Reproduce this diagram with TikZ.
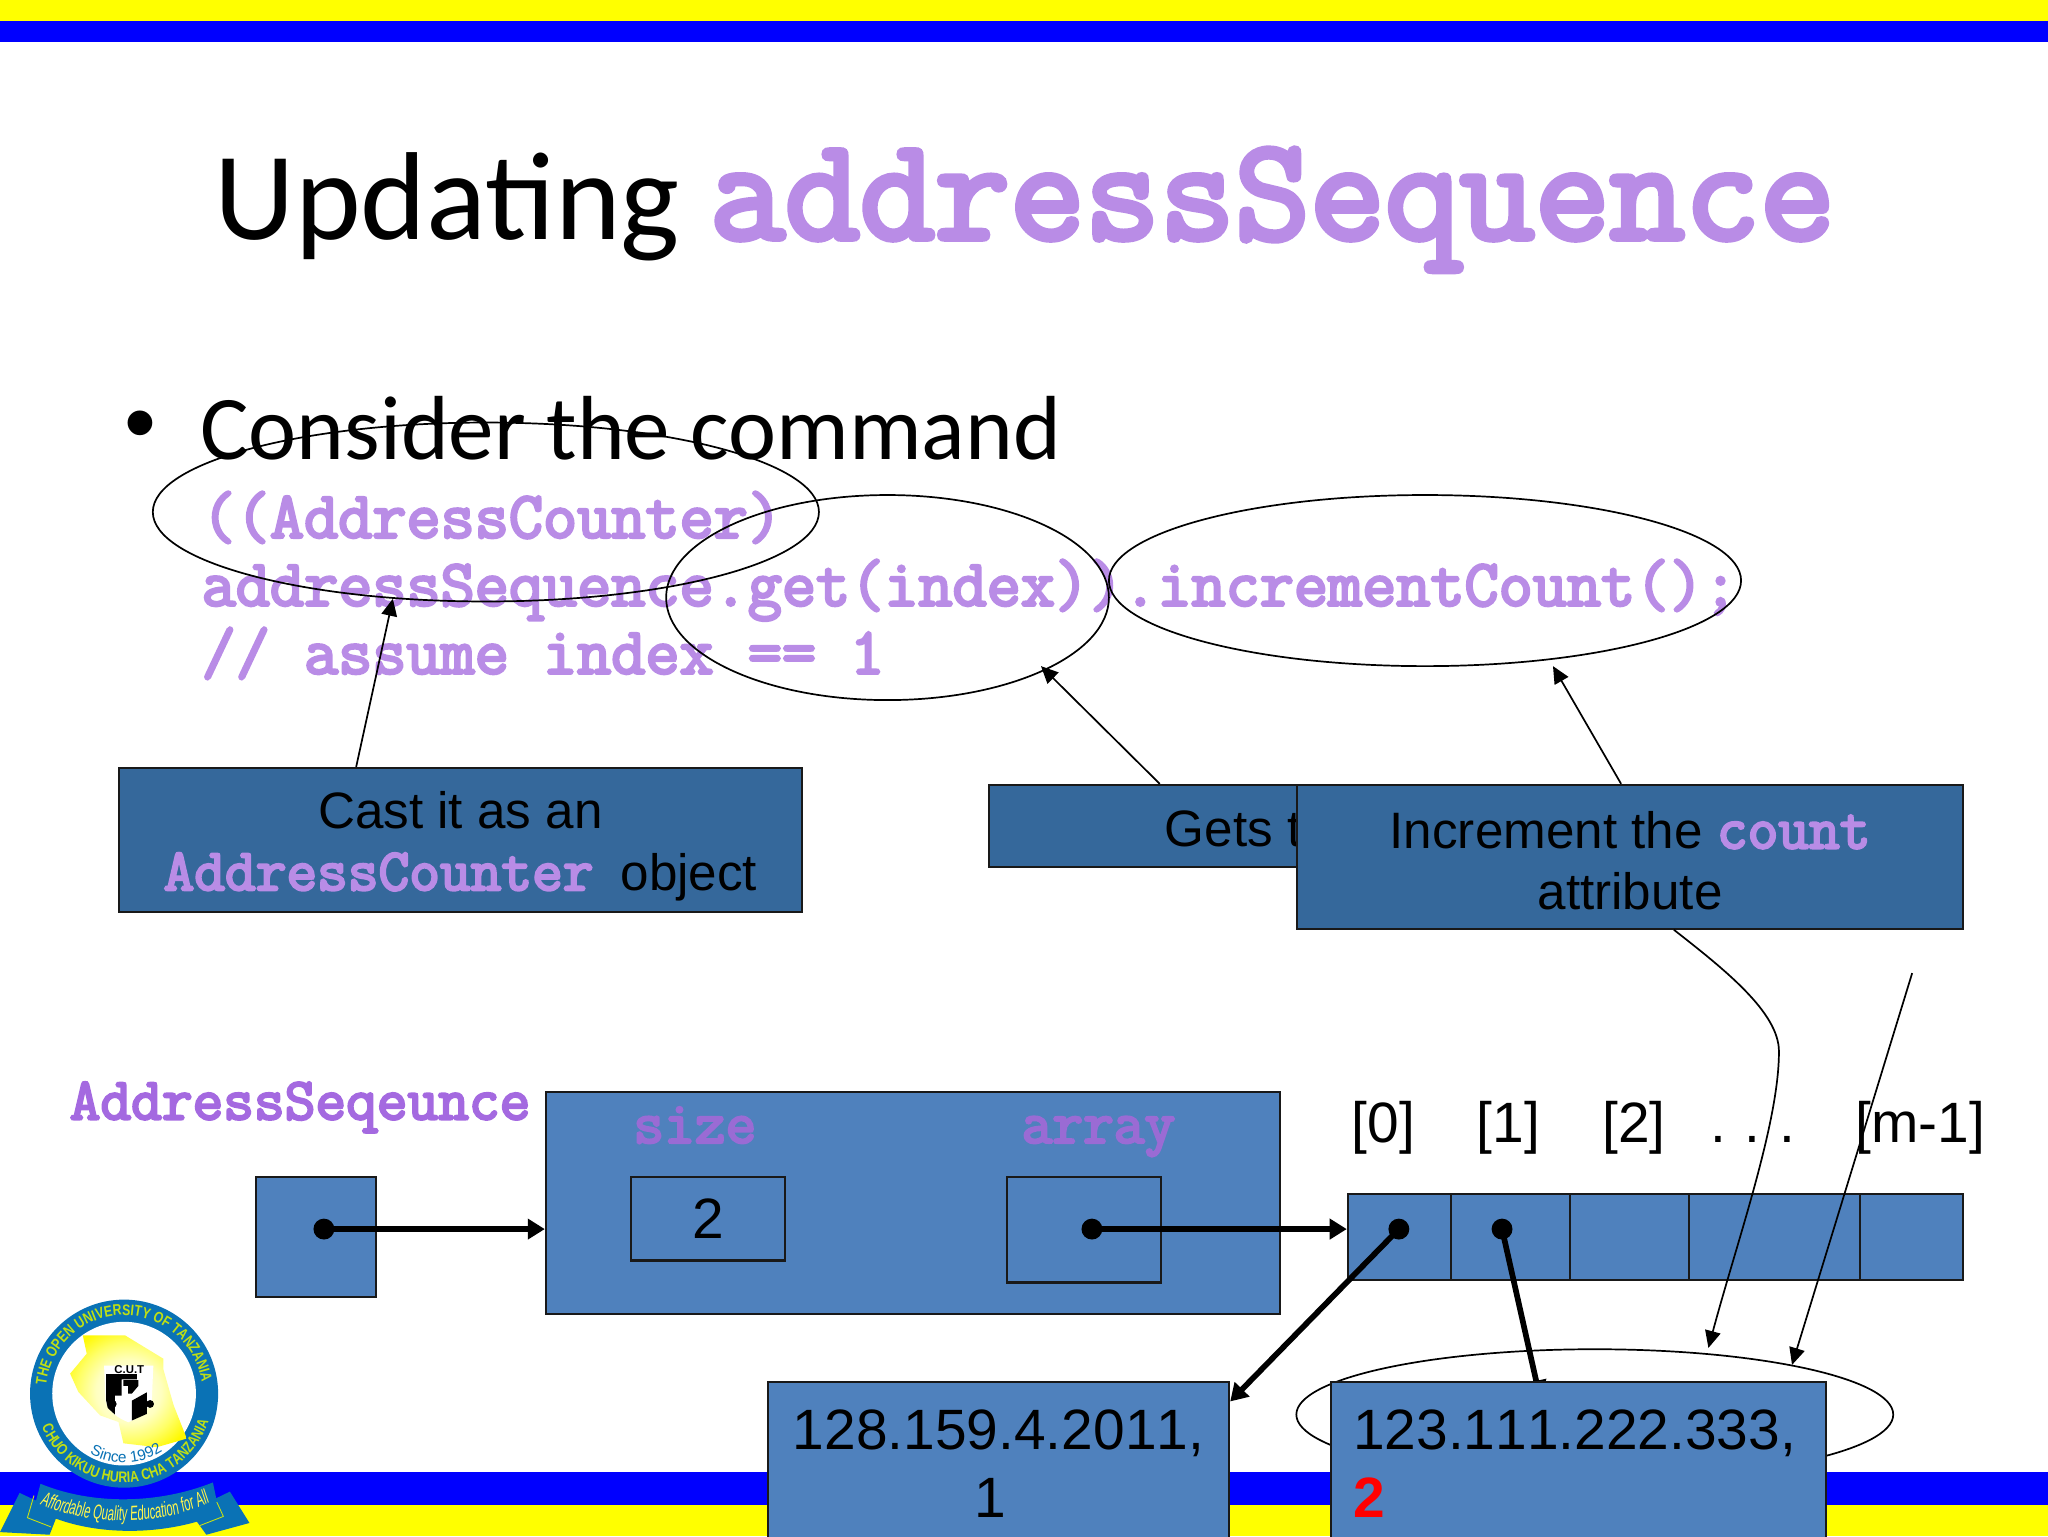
\documentclass[tikz,border=0pt]{standalone}
\usepackage{fontspec}
\setmainfont{Liberation Sans}
\newfontfamily\titlefont{Carlito}
\newfontfamily\codefont[FakeBold=4]{Latin Modern Mono}
\newfontfamily\logofont[FakeStretch=0.55,FakeSlant=0.08]{Liberation Sans}
\newfontfamily\ringfont[FakeStretch=0.8]{Liberation Sans}
\usetikzlibrary{arrows.meta,shapes.geometric,decorations.text}
\newcommand{\pxu}{0.4592pt}
\newcommand{\fsz}[1]{\fontsize{#1}{#1}\selectfont}
\definecolor{barblue}{HTML}{0000FF}
\definecolor{baryellow}{HTML}{FFFF00}
\definecolor{codelilac}{HTML}{B98CE6}
\definecolor{labellilac}{HTML}{A469E0}
\definecolor{fieldlilac}{HTML}{9A6BD4}
\definecolor{notefill}{HTML}{35689B}
\definecolor{cellfill}{HTML}{4F81BD}
\definecolor{logoblue}{HTML}{0A72B5}
\pgfdeclareradialshading{mapshade}{\pgfpoint{0bp}{0bp}}{color(0bp)=(white); color(14bp)=(yellow!25!white); color(22bp)=(yellow!60!white); color(30bp)=(yellow!95!orange); color(50bp)=(yellow!95!orange)}
\tikzset{
    notebox/.style={draw=black!90, line width=0.8pt, fill=notefill, align=center, inner sep=0pt, font=\fontsize{18}{21.6}\selectfont},
    cellbox/.style={draw=black!90, line width=0.8pt, fill=cellfill, inner sep=0pt},
    loop/.style={draw=black, ellipse, line width=0.6pt, inner sep=0pt},
    dotmark/.style={circle, fill=black, inner sep=0pt, minimum size=16*\pxu},
    index/.style={inner sep=0pt, anchor=base, font=\fontsize{20}{24}\selectfont},
    thinarrow/.style={line width=0.6pt, -{Triangle[length=6pt,width=5.5pt]}},
    thickarrow/.style={line width=2pt, -{Triangle[length=6pt,width=7pt]}}
}
\begin{document}
\begin{tikzpicture}[x=\pxu, y=-\pxu]
    \useasboundingbox (0,0) rectangle (1568,1176);
    % bars
    \fill[baryellow] (0,0) rectangle (1568,16);
    \fill[barblue] (0,16) rectangle (1568,32);
    \fill[barblue] (0,1127) rectangle (1568,1152);
    \fill[baryellow] (0,1152) rectangle (1568,1176);

    % title and bullet
    \node[anchor=base west, inner sep=0pt, font=\titlefont\fsz{44}] (titleWord) at (164,183) {Updating};
    \node[anchor=base west, inner sep=0pt, text=codelilac, font=\codefont\fsz{51.2}] (titleCode) at (543,183) {addressSequence};
    \node[anchor=base west, inner sep=0pt, font=\fsz{32}] (bulletMark) at (95,347) {•};
    \node[anchor=base west, inner sep=0pt, font=\titlefont\fsz{32}] (consider) at (153,352) {Consider the command};
    \node[anchor=north west, inner sep=0pt, align=left, text=codelilac, font=\codefont\fontsize{23.3}{23.9}\selectfont] (codeLines) at (154,376) {((AddressCounter)\\addressSequence.get(index)).incrementCount();\\// assume index == 1};

    % the three notes
    \node[loop, minimum width=510*\pxu, minimum height=137*\pxu] (castLoop) at (372,392) {};
    \node[loop, minimum width=339*\pxu, minimum height=157*\pxu] (getLoop) at (679.5,457.5) {};
    \node[loop, minimum width=484*\pxu, minimum height=131*\pxu] (incLoop) at (1091,444.5) {};
    \node[notebox, minimum width=523*\pxu, minimum height=110*\pxu] (castNote) at (352.5,643) {\rule{0pt}{17.5pt}Cast it as an\\{\codefont\color{codelilac}\fsz{20.96}AddressCounter} \hspace{4.5pt}object};
    \node[notebox, minimum width=374*\pxu, minimum height=63*\pxu] (getNote) at (944,632.5) {\rule{0pt}{14.2pt}Gets t};
    \node[notebox, minimum width=510*\pxu, minimum height=110*\pxu] (incNote) at (1248,656) {\rule{0pt}{15.8pt}Increment the {\codefont\color{codelilac}\fsz{20.96}count}\\attribute};
    \coordinate (getTip) at (797,510);
    \coordinate (incTip) at (1189,510);
    \draw[thinarrow] (castNote.145) -- (castLoop.-137.5);
    \draw[thinarrow] (getNote.150) -- (getTip);
    \draw[thinarrow] (incNote.97.3) -- (incTip);

    % the sequence object
    \node[anchor=base west, inner sep=0pt, text=labellilac, font=\codefont\fsz{20.96}] (seqLabel) at (53,857) {AddressSeqeunce};
    \node[cellbox, minimum width=92*\pxu, minimum height=92*\pxu] (refBox) at (242,947) {};
    \node[cellbox, minimum width=562*\pxu, minimum height=170*\pxu] (seqBox) at (699,921) {};
    \node[anchor=base, text=fieldlilac, inner sep=0pt, font=\codefont\fsz{20.96}] (sizeLabel) at (532,875) {size};
    \node[anchor=base, text=fieldlilac, inner sep=0pt, font=\codefont\fsz{20.96}] (arrayLabel) at (841,875) {array};
    \node[cellbox, minimum width=118*\pxu, minimum height=64*\pxu, font=\fsz{20}] (sizeBox) at (542,933) {\raisebox{-1pt}{2}};
    \node[cellbox, minimum width=118*\pxu, minimum height=81*\pxu] (arrayBox) at (830,941.5) {};

    % array cells
    \node[index] (idxA) at (1059,875) {[0]};
    \node[index] (idxB) at (1155,875) {[1]};
    \node[index] (idxC) at (1251,875) {[2]};
    \node[index] (idxD) at (1342,875) {.\,\,.\,\,.};
    \node[index] (idxE) at (1470,875) {[m-1]};
    \node[cellbox, minimum width=79*\pxu, minimum height=66*\pxu] (cellA) at (1071.5,947) {};
    \node[cellbox, minimum width=91*\pxu, minimum height=66*\pxu] (cellB) at (1156.5,947) {};
    \node[cellbox, minimum width=91*\pxu, minimum height=66*\pxu] (cellC) at (1247.5,947) {};
    \node[cellbox, minimum width=131*\pxu, minimum height=66*\pxu] (cellD) at (1358.5,947) {};
    \node[cellbox, minimum width=79*\pxu, minimum height=66*\pxu] (cellE) at (1463.5,947) {};

    % logo
    \begin{scope}[shift={(95,1067)}, x=\pxu, y=\pxu]
        \fill[logoblue] (0,0) circle (72);
        \fill[white] (0,0) circle (55);
        \shade[shading=mapshade] (-31.6,44.6) -- (0.8,44.6) -- (30,26.8) -- (30,19) -- (38,-9) -- (48,-34.4) -- (25,-41) -- (-0.5,-38) -- (-4.3,-21.7) -- (-18.4,-16.6) -- (-35,1.3) -- (-41.3,15.3) -- (-28.6,30.6) -- cycle;
        \fill[white] (-15.3,21.4) -- (22.4,21.4) -- (21.2,-5.4) .. controls (18,-14) and (10,-19) .. (3.3,-21.9) .. controls (-4,-19) and (-12,-14) .. (-14.2,-5.4) -- cycle;
        \node[inner sep=0pt, font=\bfseries\fontsize{4}{4}\selectfont] (shieldText) at (4,18.2) {C.U.T};
        \fill[black] (-13.8,15) -- (9.7,15) -- (9.7,11) -- (-1.8,11) -- (-1.8,-1.5) -- (-7,-1.5) -- (-7,-16) -- (-12.5,-11) -- (-13.8,-5) -- cycle;
        \fill[black] (-0.5,10.4) -- (11,10.4) -- (11,6) -- (5.9,0) -- (3,0) -- (3,6) -- (-0.5,6) -- cycle;
        \fill[black] (5.9,-5.4) -- (17.4,1) -- (17.4,-15.5) -- (5.9,-20.6) -- cycle;
        \fill[black] (-8.7,-7.9) circle (3);
        \fill[black] (19.9,-7.9) circle (3);
        \path[decorate, decoration={text along path, text align=center, text={|\ringfont\bfseries\fontsize{5.4}{6}\selectfont\color{yellow!75!green}|THE OPEN UNIVERSITY OF TANZANIA}}] (185:60) arc [start angle=185, end angle=-3, radius=60];
        \path[decorate, decoration={text along path, text align=center, text={|\ringfont\bfseries\fontsize{5.4}{6}\selectfont\color{yellow!75!green}|CHUO KIKUU HURIA CHA TANZANIA}}] (192:68) arc [start angle=192, end angle=352, radius=68];
        \path[decorate, decoration={text along path, text align=center, text={|\fontsize{5.4}{6}\selectfont\color{logoblue}|Since 1992}}] (232:53) arc [start angle=232, end angle=312, radius=53];
        % ribbon
        \fill[logoblue] (-80,-76) -- (-95,-106) -- (-57,-108) -- (-50,-90) -- cycle;
        \fill[logoblue] (81,-75) -- (96,-99) -- (63,-108) -- (50,-90) -- cycle;
        \fill[logoblue] (-64,-69) .. controls (-25,-85) and (25,-85) .. (68,-68) -- (73,-92) .. controls (30,-110) and (-30,-110) .. (-69,-88) -- cycle;
        \draw[yellow!80!green, line width=0.3pt] (-69,-78) -- (-74,-95) -- (-56,-102);
        \draw[yellow!80!green, line width=0.3pt] (71,-83) -- (76,-94) -- (58,-101);
        \path[decorate, decoration={text along path, text align=center, text={|\logofont\fontsize{7.2}{8}\selectfont\color{yellow!70!white}|Affordable Quality Education for All}}] (-66,-84) .. controls (-25,-102) and (25,-102) .. (67,-83);
    \end{scope}

    % the two address objects
    \node[loop, minimum width=457*\pxu, minimum height=100*\pxu] (countLoop) at (1221,1083) {};
    \coordinate (pointerTip) at (1179,1070);
    \node[dotmark] (dotB) at (1150,941) {};
    \draw[thickarrow] (dotB.center) -- (pointerTip);
    \node[cellbox, minimum width=353*\pxu, minimum height=125*\pxu, align=center, font=\fontsize{20}{23.9}\selectfont\addfontfeatures{Kerning=Off}] (addrA) at (764.5,1120.5) {128.159.4.2011,\\\mbox{1\hspace{5.5pt}}};
    \node[cellbox, minimum width=379*\pxu, minimum height=125*\pxu, text width=345*\pxu, align=left, font=\fontsize{20}{23.9}\selectfont\addfontfeatures{Kerning=Off}] (addrB) at (1208.5,1120.5) {123.111.222.333,\\{\bfseries\color{red}2}};

    % pointers
    \node[dotmark] (dotRef) at (248,941) {};
    \node[dotmark] (dotArray) at (836,941) {};
    \node[dotmark] (dotA) at (1071,941) {};
    \draw[thickarrow] (dotRef.center) -- (dotRef.center -| seqBox.west);
    \draw[thickarrow] (dotArray.center) -- (dotArray.center -| cellA.west);
    \draw[thickarrow] (dotA.center) -- (addrA.15.3);

    % long arrows to the oval
    \coordinate (freeStart) at (1464,745);
    \coordinate (curveTip) at (1308,1032);
    \coordinate (lineTip) at (1372,1045);
    \draw[thinarrow] (incNote.-59) .. controls (1320,742) and (1362,775) .. (1362,805) .. controls (1362,860) and (1330,950) .. (curveTip);
    \draw[thinarrow] (freeStart) -- (lineTip);
\end{tikzpicture}
\end{document}
